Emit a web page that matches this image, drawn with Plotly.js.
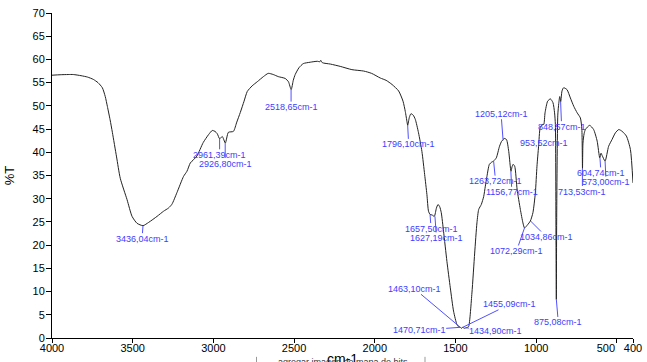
<!DOCTYPE html>
<html>
<head>
<meta charset="utf-8">
<script src="https://cdn.plot.ly/plotly-3.0.1.min.js"></script>
<style>html,body{margin:0;padding:0;background:#fff;}#chart{width:647px;height:362px;}</style>
</head>
<body>
<div id="chart"></div>
<script>
// Spectrum (wavenumber in cm-1, %T)
const wavenumber = [4000,3950,3900,3868,3820,3780,3744,3715,3688,3670,3657,3640,3626,3600,3577,3535,3504,3473,3436,3401,3349,3309,3278,3257,3226,3185,3164,3143,3123,3102,3063,3030,3007,2990,2976,2961,2945,2926,2907,2876,2855,2833,2810,2790,2760,2728,2690,2660,2629,2598,2555,2535,2518,2505,2493,2470,2443,2400,2356,2340,2335,2325,2275,2214,2142,2069,2020,1966,1930,1893,1852,1825,1811,1800,1796,1786,1776,1762,1749,1729,1708,1691,1677,1667,1657,1645,1631,1618,1608,1598,1588,1574,1553,1532,1512,1491,1480,1470,1463,1455,1445,1435,1425,1418,1398,1381,1367,1356,1340,1325,1315,1305,1290,1275,1264,1247,1227,1212,1205,1200,1184,1170,1156,1150,1143,1133,1118,1098,1082,1072,1053,1036,1020,1005,995,985,975,962,953,945,929,912,896,886,881,877,875,873,866,860,854,848,840,830,809,788,767,746,726,717,713,710,703,695,669,644,622,606,598,591,573,551,530,509,488,467,441,416,400];
const transmittance = [56.6,56.7,56.75,56.75,56.5,56.2,55.7,55.0,53.9,52.0,49.9,47.0,44.3,39.0,34.4,29.8,26.2,24.7,24.2,24.9,26.2,27.3,28.0,28.8,31.3,34.8,35.9,37.7,38.4,39.2,42.1,43.8,44.7,44.5,44.0,42.9,43.4,42.0,44.3,44.5,46.5,48.6,51.0,53.1,54.3,55.2,56.3,57.0,56.75,56.3,55.9,55.2,53.5,55.5,56.75,58.2,59.1,59.4,59.6,59.5,59.8,59.3,59.0,58.5,57.8,57.5,57.0,56.0,55.5,54.6,53.2,51.0,48.8,46.5,45.8,47.5,48.3,48.0,47.1,44.2,40.2,35.2,30.9,27.3,26.6,26.5,26.2,28.0,28.75,28.3,27.0,23.0,16.5,10.8,5.8,2.9,2.4,2.3,2.1,2.3,2.1,2.2,2.3,2.5,9.7,18.3,24.8,27.7,28.75,30.5,32.7,34.8,37.4,37.9,38.1,38.8,41.3,42.5,42.6,43.0,42.75,40.2,35.9,36.8,37.4,37.0,32.0,27.7,24.8,23.7,24.4,25.2,27.0,31.3,37.0,41.3,45.3,46.0,46.0,48.5,51.0,51.5,50.7,48.5,46.0,20.0,8.3,25.0,48.0,50.5,52.0,50.9,53.2,53.9,53.5,51.7,49.9,48.5,47.4,45.0,36.5,42.0,44.0,44.9,45.8,44.9,42.4,38.8,39.8,39.3,38.1,41.3,42.75,44.2,44.9,44.5,43.5,40.6,33.4];

// Peak labels
const peakWn = [3436.04,2961.39,2926.80,2518.65,1796.10,1657.50,1627.19,1470.71,1463.10,1455.09,1434.90,1263.72,1205.12,1156.77,1072.29,1034.86,953.52,848.57,875.08,713.53,604.74,573.00];
const peakT = [24.2,42.9,42.0,53.5,45.8,26.6,26.2,2.3,2.1,2.3,2.2,38.1,42.7,35.9,23.7,25.2,46.0,50.9,8.3,36.5,38.8,38.1];
const peakText = ['3436,04cm-1','2961,39cm-1','2926,80cm-1','2518,65cm-1','1796,10cm-1','1657,50cm-1','1627,19cm-1','1470,71cm-1','1463,10cm-1','1455,09cm-1','1434,90cm-1','1263,72cm-1','1205,12cm-1','1156,77cm-1','1072,29cm-1','1034,86cm-1','953,52cm-1','848,57cm-1','875,08cm-1','713,53cm-1','604,74cm-1','573,00cm-1'];

// Label offsets (pixels)
const labelDx = [-1,0,0,0,1,1,1.5,-41,-47,47,30,2,-2,1,-8,16,0,1,2,0,1,1];
const labelDy = [13,16,20.5,17.5,19,14,21.5,3,-39.5,-23,3,20,-26,21,23,16,19,25,23,23,15,21];

// Axis ticks
const xTickVals = [4000,3500,3000,2500,2000,1500,1000,500,400];
const xTickText = ['4000','3500','3000','2500','2000','1500','1000','500\u2003\u2003','400'];
const yTickVals = [0,5,10,15,20,25,30,35,40,45,50,55,60,65,70];

const FONT = 'Arial, "Liberation Sans", sans-serif';
const blue = '#3c3cff';

const annotations = peakWn.map((w, i) => ({
  x: w, y: peakT[i], xref: 'x', yref: 'y',
  text: peakText[i],
  showarrow: true, arrowhead: 0, arrowwidth: 1, arrowcolor: '#5050ff',
  ax: labelDx[i], ay: labelDy[i], standoff: 0,
  font: {family: FONT, size: 9, color: blue},
  borderpad: 0
}));

annotations.push({
  xref: 'paper', yref: 'paper', x: 0.5, y: 0, yanchor: 'top', yshift: -11,
  text: 'cm-1', showarrow: false,
  font: {family: FONT, size: 14, color: '#000'}
});
annotations.push({
  xref: 'paper', yref: 'paper', x: 0.5, y: 0, yanchor: 'top', yshift: -17,
  text: 'agregar imagen de mapa de bits', showarrow: false,
  font: {family: FONT, size: 9, color: '#333'}
});

const trace = {
  x: wavenumber, y: transmittance, type: 'scatter', mode: 'lines',
  line: {color: '#222', width: 1, shape: 'spline', smoothing: 0.6},
  hoverinfo: 'skip'
};

const layout = {
  width: 647, height: 362,
  margin: {l: 52, r: 14, t: 13, b: 24},
  paper_bgcolor: '#fff', plot_bgcolor: '#fff',
  showlegend: false,
  font: {family: FONT, size: 11, color: '#000'},
  xaxis: {
    range: [4000, 400], autorange: false,
    tickvals: xTickVals, ticktext: xTickText, tickangle: 0,
    ticks: 'outside', ticklen: 4, tickcolor: '#000', tickwidth: 1,
    ticklabelstandoff: -4,
    showline: true, linecolor: '#000', linewidth: 1,
    showgrid: false, zeroline: false,
    tickfont: {family: FONT, size: 11, color: '#000'}
  },
  yaxis: {
    range: [0, 70], autorange: false,
    tickvals: yTickVals,
    ticks: 'outside', ticklen: 5, tickcolor: '#000', tickwidth: 1,
    ticklabelstandoff: -1,
    showline: true, linecolor: '#000', linewidth: 1,
    showgrid: false, zeroline: false,
    tickfont: {family: FONT, size: 11, color: '#000'},
    title: {text: '%T', standoff: 14, font: {family: FONT, size: 13, color: '#000'}}
  },
  shapes: [
    {type: 'line', xref: 'paper', yref: 'paper', x0: 0.352, x1: 0.352, y0: -0.058, y1: -0.08, line: {color: '#999', width: 1}},
    {type: 'line', xref: 'paper', yref: 'paper', x0: 0.642, x1: 0.642, y0: -0.058, y1: -0.08, line: {color: '#999', width: 1}}
  ],
  annotations: annotations
};

Plotly.newPlot('chart', [trace], layout, {staticPlot: true, displayModeBar: false});
</script>
</body>
</html>
